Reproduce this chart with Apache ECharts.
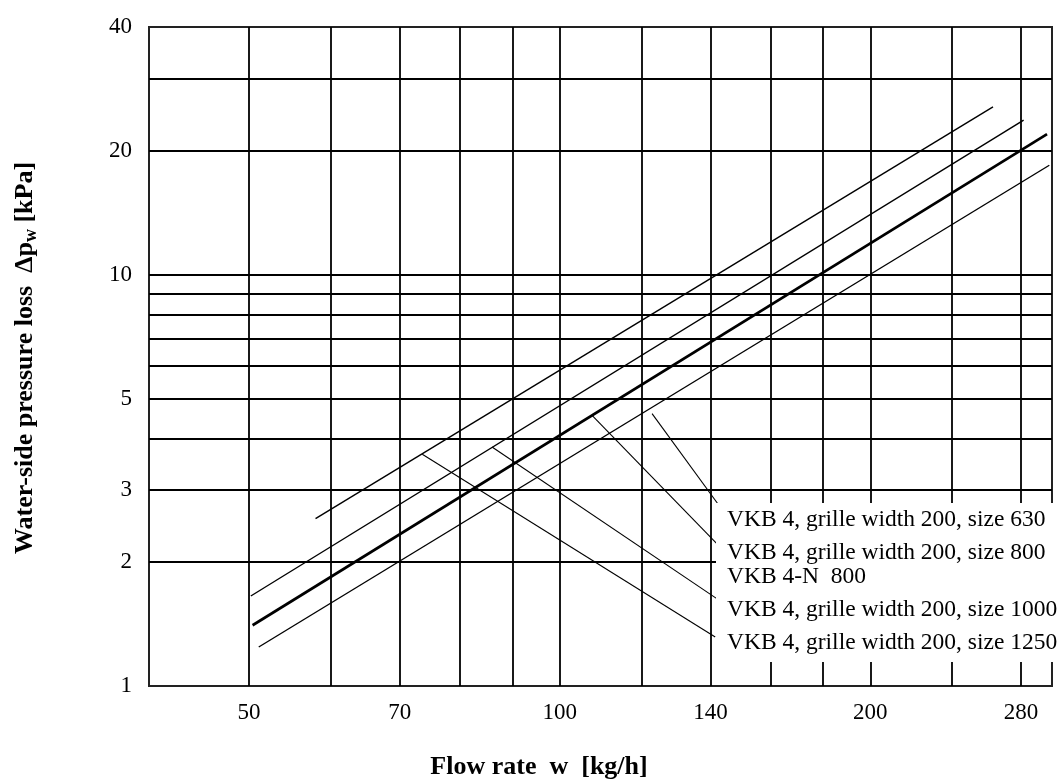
<!DOCTYPE html>
<html>
<head>
<meta charset="utf-8">
<script src="https://cdn.jsdelivr.net/npm/echarts@6/dist/echarts.min.js"></script>
<style>
html,body{margin:0;padding:0;background:#fff;}
#main{width:1064px;height:782px;}
</style>
</head>
<body>
<div id="main"></div>
<script>
// ---- data ----
const xRange = [40, 300];
const yRange = [1, 40];
const xGridValues = [50, 60, 70, 80, 90, 100, 120, 140, 160, 180, 200, 240, 280];
const xLabelValues = [50, 70, 100, 140, 200, 280];
const yGridValues = [2, 3, 4, 5, 6, 7, 8, 9, 10, 20, 30];
const yLabelValues = [1, 2, 3, 5, 10, 20, 40];

const size630 = [[51.1, 1.244], [298.2, 18.45]];
const size800 = [[50.4, 1.405], [296.7, 21.95]];
const size1000 = [[50.2, 1.655], [281.6, 23.74]];
const size1250 = [[58.0, 2.553], [263.0, 25.57]];

const leader630 = [[122.9, 4.595], [142.9, 2.735]];
const leader800 = [[107.5, 4.551], [142.0, 2.219]];
const leader1000 = [[86.0, 3.812], [142.0, 1.631]];
const leader1250 = [[73.6, 3.659], [141.5, 1.315]];

const legendTexts = [
  'VKB 4, grille width 200, size 630',
  'VKB 4, grille width 200, size 800',
  'VKB 4-N  800',
  'VKB 4, grille width 200, size 1000',
  'VKB 4, grille width 200, size 1250'
];

// ---- chart ----
const FONT = '"Liberation Serif", "Times New Roman", serif';
const chart = echarts.init(document.getElementById('main'), null, {renderer: 'canvas'});

function curve(data, width) {
  return {
    type: 'line', data: data, showSymbol: false, silent: true, animation: false,
    lineStyle: {color: '#000', width: width}, z: 3
  };
}

const legendY = [520, 553, 577, 610, 643];

const option = {
  backgroundColor: '#fff',
  animation: false,
  grid: {left: 149, right: 12, top: 27, bottom: 96, show: true, borderColor: '#222', borderWidth: 2, backgroundColor: 'transparent'},
  xAxis: {
    type: 'log', logBase: 10, min: xRange[0], max: xRange[1],
    axisLine: {show: false},
    axisTick: {show: false, customValues: xGridValues},
    splitLine: {show: true, lineStyle: {color: '#000', width: 1.8}},
    minorSplitLine: {show: false},
    axisLabel: {customValues: xLabelValues, margin: 15, color: '#000', fontFamily: FONT, fontSize: 23}
  },
  yAxis: {
    type: 'log', logBase: 10, min: yRange[0], max: yRange[1],
    axisLine: {show: false},
    axisTick: {show: false, customValues: yGridValues},
    splitLine: {show: true, lineStyle: {color: '#000', width: 1.8}},
    axisLabel: {customValues: yLabelValues, margin: 17, color: '#000', fontFamily: FONT, fontSize: 23}
  },
  series: [
    curve(size630, 1.4),
    curve(size800, 2.7),
    curve(size1000, 1.4),
    curve(size1250, 1.4),
    curve(leader630, 1.1),
    curve(leader800, 1.1),
    curve(leader1000, 1.1),
    curve(leader1250, 1.1)
  ],
  graphic: [
    {type: 'rect', z: 50, silent: true, shape: {x: 716, y: 503, width: 345, height: 159}, style: {fill: '#fff'}},
  ].concat(legendTexts.map(function (t, i) {
    return {type: 'text', z: 51, silent: true, x: 727, y: legendY[i],
      style: {text: t, fill: '#000', font: '23.5px ' + FONT, textAlign: 'left', textVerticalAlign: 'middle'}};
  })).concat([
    {type: 'text', z: 51, silent: true, x: 539, y: 767,
      style: {text: 'Flow rate  w  [kg/h]', fill: '#000', font: 'bold 26px ' + FONT, textAlign: 'center', textVerticalAlign: 'middle'}},
    {type: 'text', z: 51, silent: true, x: 25, y: 358, rotation: Math.PI / 2,
      style: {
        text: '{b|Water-side pressure loss  Δp}{s|w}{b| [kPa]}',
        align: 'center', verticalAlign: 'middle',
        rich: {
          b: {fontFamily: FONT, fontWeight: 'bold', fontSize: 26, fill: '#000', color: '#000'},
          s: {fontFamily: FONT, fontWeight: 'bold', fontSize: 18, fill: '#000', color: '#000', verticalAlign: 'bottom', padding: [12, 0, 0, 0]}
        }
      }}
  ])
};
chart.setOption(option);
</script>
</body>
</html>
